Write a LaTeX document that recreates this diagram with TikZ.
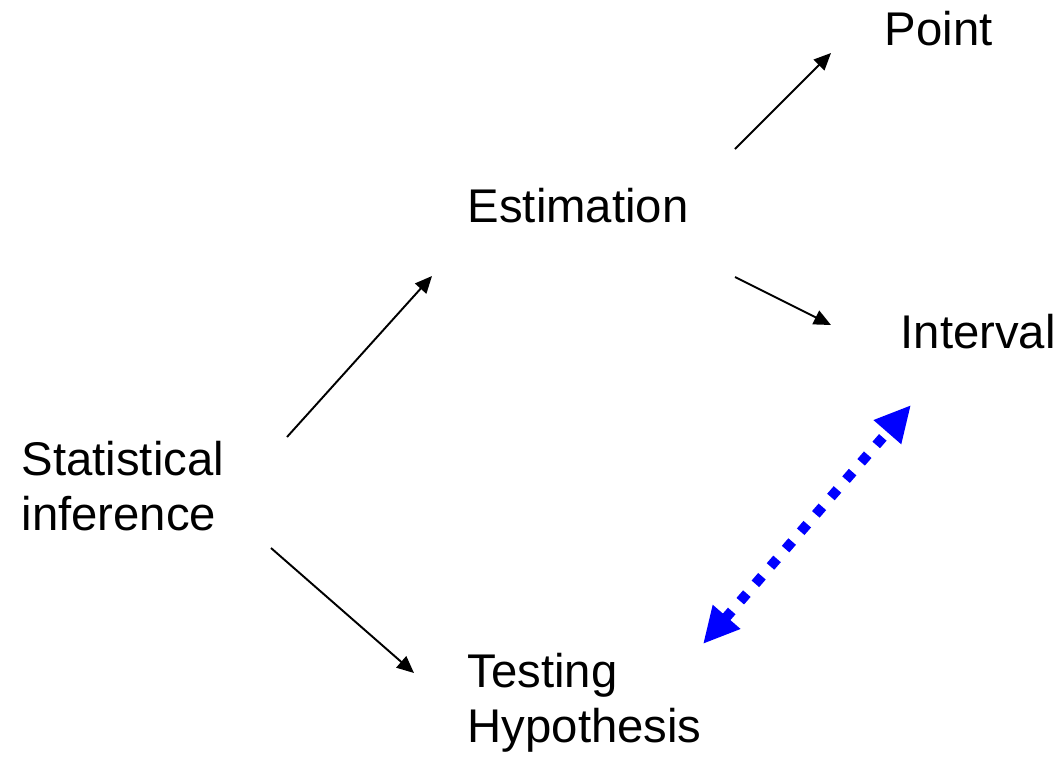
\documentclass[tikz,border=0pt]{standalone}
\usepackage{fontspec}
\setmainfont{Liberation Sans}
\definecolor{siInk}{HTML}{000000}
\definecolor{siBlue}{HTML}{0000FF}
\usetikzlibrary{arrows.meta,positioning}

\begin{document}
\begin{tikzpicture}[x=0.01cm, y=-0.01cm,
  siLabel/.style={anchor=base west, inner sep=0pt, align=left, text=siInk,
    font=\fontsize{13.45}{15.6}\selectfont},
  siFlow/.style={draw=siInk, line width=0.55pt, -{Triangle[length=0.17cm, width=0.15cm]}},
  siLink/.style={draw=siBlue, line width=0.1cm, dash pattern=on 0.1cm off 0.13cm,
    {Triangle[length=0.36cm, width=0.34cm]}-{Triangle[length=0.36cm, width=0.34cm]}}]
  \useasboundingbox (0,0) rectangle (1059,756);

  % the five labels, at their (last) baselines
  \node[siLabel] (stat) at (21,530) {Statistical\\inference};
  \node[siLabel] (est) at (467,222) {Estimation};
  \node[siLabel] (point) at (884,45) {Point};
  \node[siLabel] (interval) at (900,348) {Interval};
  \node[siLabel] (test) at (467,742) {Testing\\Hypothesis};

  % black arrows — inference splits, estimation splits
  \draw[siFlow] ([shift={(266,-93)}]stat.base west) -- ([shift={(-35,54)}]est.base west);
  \draw[siFlow] ([shift={(250,18)}]stat.base west) -- ([shift={(-53,-69)}]test.base west);
  \draw[siFlow] ([shift={(268,-73)}]est.base west) -- ([shift={(-53,8)}]point.base west);
  \draw[siFlow] ([shift={(268,55)}]est.base west) -- ([shift={(-69,-23)}]interval.base west);

  % blue dotted link between interval and testing
  \draw[siLink] ([shift={(236,-98)}]test.base west) -- ([shift={(11,57)}]interval.base west);
\end{tikzpicture}
\end{document}
